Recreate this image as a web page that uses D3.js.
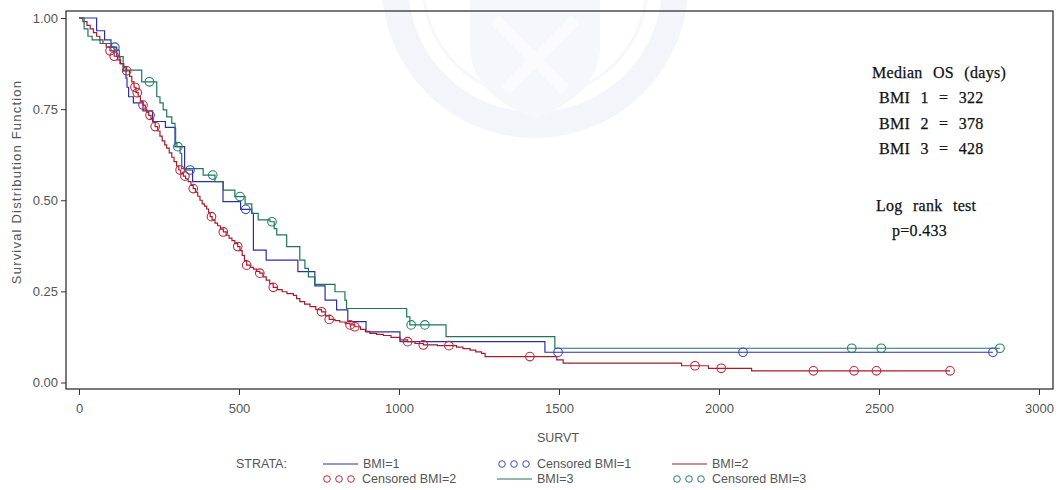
<!DOCTYPE html>
<html>
<head>
<meta charset="utf-8">
<script src="https://cdn.jsdelivr.net/npm/d3@7"></script>
<style>
  html, body { margin: 0; padding: 0; background: #fff; }
  svg { display: block; }
  .ax text { font-family: "Liberation Sans Narrow", "Liberation Sans", Arial, sans-serif; font-size: 13px; fill: #555; }
  .ax line { stroke: #333; }
  .ax path { display: none; }
  .note { font-family: "Liberation Serif", "DejaVu Serif", serif; font-size: 16px; fill: #111; stroke: #111; stroke-width: 0.25px; word-spacing: 6px; letter-spacing: 0.3px; }
  .lab { font-family: "Liberation Sans Narrow", "Liberation Sans", Arial, sans-serif; font-size: 12.5px; fill: #555; }
  .ytitle { font-family: "Liberation Sans", Arial, sans-serif; font-size: 13px; fill: #555; letter-spacing: 1.2px; }
</style>
</head>
<body>
<svg id="chart" width="1060" height="490"></svg>
<script>
// Kaplan-Meier estimates by BMI stratum: event times (days) and survival after each drop
const bmi1Times = [55, 80, 100, 118, 128, 138, 147, 150, 155, 170, 200, 230, 270, 300, 330, 355, 450, 505, 540, 545, 585, 684, 737, 769, 805, 840, 897, 1003, 1456];
const bmi1Surv  = [0.965, 0.94, 0.92, 0.895, 0.875, 0.855, 0.835, 0.81, 0.784, 0.767, 0.745, 0.716, 0.70, 0.647, 0.583, 0.551, 0.496, 0.475, 0.464, 0.363, 0.336, 0.304, 0.265, 0.226, 0.199, 0.167, 0.139, 0.112, 0.083];
const bmi1Censor = [112, 347, 521, 1497, 2075, 2856];

const bmi2Times = [12, 25, 35, 45, 55, 65, 75, 85, 97, 110, 120, 130, 140, 149, 158, 165, 172, 178, 185, 192, 200, 207, 212, 218, 225, 232, 238, 246, 253, 260, 268, 274, 282, 290, 297, 305, 312, 318, 326, 333, 341, 350, 357, 364, 371, 378, 385, 392, 399, 405, 410, 416, 425, 433, 442, 451, 460, 469, 478, 487, 496, 503, 510, 517, 524, 535, 545, 555, 565, 575, 585, 596, 607, 620, 635, 650, 670, 680, 690, 705, 722, 740, 758, 770, 782, 800, 815, 832, 847, 862, 880, 895, 909, 930, 951, 975, 1003, 1027, 1050, 1076, 1120, 1180, 1200, 1222, 1240, 1258, 1269, 1493, 1513, 1883, 1967, 2102];
const bmi2Surv  = [0.99, 0.98, 0.97, 0.96, 0.95, 0.94, 0.93, 0.92, 0.91, 0.895, 0.885, 0.875, 0.866, 0.855, 0.84, 0.825, 0.81, 0.795, 0.785, 0.772, 0.761, 0.75, 0.741, 0.733, 0.724, 0.713, 0.702, 0.69, 0.676, 0.663, 0.652, 0.643, 0.63, 0.618, 0.606, 0.594, 0.583, 0.573, 0.566, 0.559, 0.551, 0.541, 0.532, 0.522, 0.511, 0.50, 0.49, 0.484, 0.476, 0.466, 0.455, 0.446, 0.437, 0.43, 0.421, 0.413, 0.404, 0.396, 0.389, 0.381, 0.373, 0.362, 0.349, 0.335, 0.322, 0.316, 0.311, 0.305, 0.30, 0.29, 0.281, 0.271, 0.261, 0.255, 0.249, 0.244, 0.239, 0.23, 0.222, 0.215, 0.208, 0.20, 0.194, 0.183, 0.173, 0.17, 0.166, 0.162, 0.158, 0.153, 0.146, 0.14, 0.135, 0.132, 0.129, 0.124, 0.117, 0.112, 0.107, 0.103, 0.101, 0.097, 0.093, 0.089, 0.084, 0.08, 0.071, 0.062, 0.053, 0.046, 0.039, 0.032];
const bmi2Censor = [97, 110, 149, 175, 182, 200, 222, 238, 316, 331, 357, 414, 451, 496, 524, 565, 607, 758, 782, 847, 862, 1027, 1076, 1156, 1409, 1925, 2007, 2295, 2422, 2492, 2722];

const bmi3Times = [16, 28, 41, 66, 102, 112, 126, 138, 144, 196, 243, 253, 263, 274, 290, 300, 302, 306, 316, 321, 388, 425, 451, 487, 519, 540, 560, 597, 610, 618, 649, 690, 706, 717, 737, 800, 831, 836, 1024, 1034, 1147, 1487];
const bmi3Surv  = [0.97, 0.95, 0.94, 0.93, 0.921, 0.912, 0.894, 0.866, 0.857, 0.825, 0.784, 0.767, 0.748, 0.729, 0.711, 0.697, 0.656, 0.647, 0.629, 0.587, 0.569, 0.551, 0.528, 0.51, 0.49, 0.464, 0.446, 0.441, 0.422, 0.405, 0.373, 0.336, 0.313, 0.29, 0.269, 0.249, 0.226, 0.203, 0.18, 0.158, 0.126, 0.094];
const bmi3Censor = [220, 309, 418, 503, 603, 1038, 1081, 2415, 2507, 2878];

const xTicks = [0, 500, 1000, 1500, 2000, 2500, 3000];
const yTicks = [0, 0.25, 0.5, 0.75, 1];

const medianLines = ["BMI 1 = 322", "BMI 2 = 378", "BMI 3 = 428"];
const pValue = "p=0.433";

const strata = [
  { name: "BMI=1", times: bmi1Times, surv: bmi1Surv, censor: bmi1Censor, line: "#2d2fa6", mark: "#3a4fc4" },
  { name: "BMI=2", times: bmi2Times, surv: bmi2Surv, censor: bmi2Censor, line: "#a31d2e", mark: "#c2263c" },
  { name: "BMI=3", times: bmi3Times, surv: bmi3Surv, censor: bmi3Censor, line: "#1f7558", mark: "#22806a" }
];

const svg = d3.select("#chart");
const frame = { left: 66, right: 1053, top: 11, bottom: 389 };
const x = d3.scaleLinear().domain([0, 3000]).range([79, 1039]);
const y = d3.scaleLinear().domain([0, 1]).range([382.5, 18]);

// faint seal in the background
const seal = svg.append("g").attr("opacity", 0.35);
seal.append("circle").attr("cx", 535).attr("cy", -15).attr("r", 140)
  .attr("fill", "none").attr("stroke", "#dfe5f3").attr("stroke-width", 26);
seal.append("circle").attr("cx", 535).attr("cy", -15).attr("r", 112)
  .attr("fill", "none").attr("stroke", "#e6ebf6").attr("stroke-width", 3);
seal.append("path")
  .attr("d", "M470,0 L600,0 L600,45 Q600,95 535,118 Q470,95 470,45 Z")
  .attr("fill", "#e3e9f5");
seal.append("path")
  .attr("d", "M495,20 L535,60 L575,20 M505,90 L535,60 L565,90")
  .attr("fill", "none").attr("stroke", "#f4f6fb").attr("stroke-width", 12);

// axes
svg.append("g").attr("class", "ax")
  .attr("transform", `translate(0,${frame.bottom})`)
  .call(d3.axisBottom(x).tickValues(xTicks).tickSize(6).tickPadding(9).tickFormat(d3.format("d")));
svg.append("g").attr("class", "ax")
  .attr("transform", `translate(${frame.left},0)`)
  .call(d3.axisLeft(y).tickValues(yTicks).tickSize(5).tickPadding(3).tickFormat(d3.format(".2f")));

svg.append("rect")
  .attr("x", frame.left).attr("y", frame.top)
  .attr("width", frame.right - frame.left).attr("height", frame.bottom - frame.top)
  .attr("fill", "none").attr("stroke", "#333").attr("stroke-width", 1.3);

svg.append("text").attr("class", "lab")
  .attr("x", 558).attr("y", 442).attr("text-anchor", "middle").text("SURVT");
svg.append("text").attr("class", "ytitle")
  .attr("transform", "translate(21,182) rotate(-90)")
  .attr("text-anchor", "middle").text("Survival Distribution Function");

// step function helpers
function survAt(s, t) {
  let v = 1;
  for (let i = 0; i < s.times.length; i++) { if (s.times[i] <= t) v = s.surv[i]; }
  return v;
}

const step = d3.line().x(d => x(d[0])).y(d => y(d[1])).curve(d3.curveStepAfter);

strata.forEach(s => {
  const pts = [[0, 1]].concat(s.times.map((t, i) => [t, s.surv[i]]));
  const end = d3.max(s.censor);
  pts.push([end, survAt(s, end)]);
  svg.append("path").datum(pts)
    .attr("d", step).attr("fill", "none")
    .attr("stroke", s.line).attr("stroke-width", 1.2);
});

strata.forEach(s => {
  svg.append("g").selectAll("circle").data(s.censor).join("circle")
    .attr("cx", d => x(d)).attr("cy", d => y(survAt(s, d)))
    .attr("r", 4.3).attr("fill", "none")
    .attr("stroke", s.mark).attr("stroke-width", 1.1);
});

// annotations
const note = svg.append("g");
note.append("text").attr("class", "note").attr("x", 872).attr("y", 78).text("Median OS (days)");
medianLines.forEach((t, i) => {
  note.append("text").attr("class", "note").attr("x", 879).attr("y", 103 + i * 25.5).text(t);
});
note.append("text").attr("class", "note").attr("x", 876).attr("y", 211).text("Log rank test");
note.append("text").attr("class", "note").attr("x", 892).attr("y", 236).text(pValue);

// legend
const leg = svg.append("g");
leg.append("text").attr("class", "lab").attr("x", 236).attr("y", 468).text("STRATA:");
const legendItems = [
  { kind: "line", s: strata[0], x: 323, row: 0, label: "BMI=1" },
  { kind: "mark", s: strata[0], x: 497, row: 0, label: "Censored BMI=1" },
  { kind: "line", s: strata[1], x: 672, row: 0, label: "BMI=2" },
  { kind: "mark", s: strata[1], x: 322, row: 1, label: "Censored BMI=2" },
  { kind: "line", s: strata[2], x: 497, row: 1, label: "BMI=3" },
  { kind: "mark", s: strata[2], x: 672, row: 1, label: "Censored BMI=3" }
];
legendItems.forEach(it => {
  const cy = 464 + it.row * 15;
  if (it.kind === "line") {
    leg.append("line").attr("x1", it.x).attr("x2", it.x + 35).attr("y1", cy).attr("y2", cy)
      .attr("stroke", it.s.line).attr("stroke-width", 1.2);
    leg.append("text").attr("class", "lab").attr("x", it.x + 40).attr("y", cy + 4).text(it.label);
  } else {
    [5, 17, 29].forEach(dx => {
      leg.append("circle").attr("cx", it.x + dx).attr("cy", cy).attr("r", 3.3)
        .attr("fill", "none").attr("stroke", it.s.mark).attr("stroke-width", 1);
    });
    leg.append("text").attr("class", "lab").attr("x", it.x + 40).attr("y", cy + 4).text(it.label);
  }
});
</script>
</body>
</html>
